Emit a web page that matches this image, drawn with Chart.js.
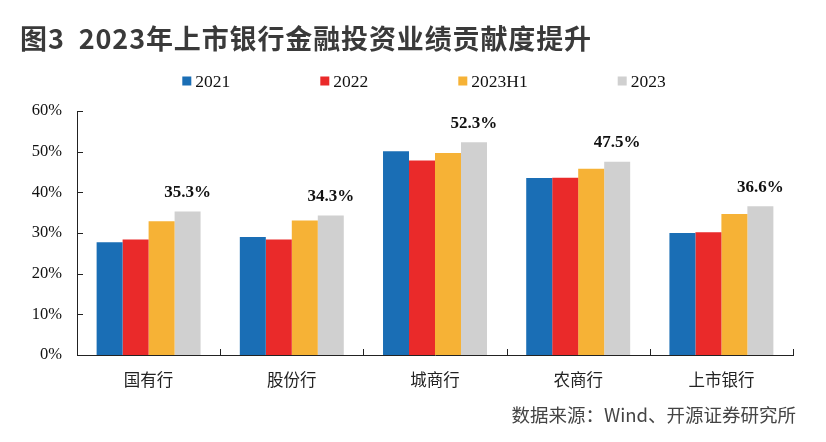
<!DOCTYPE html>
<html>
<head>
<meta charset="utf-8">
<script src="https://cdn.jsdelivr.net/npm/chart.js@4.4.1/dist/chart.umd.min.js"></script>
<style>
  html, body { margin: 0; padding: 0; background: #ffffff; }
  #wrap { position: relative; width: 826px; height: 442px; overflow: hidden; background: #fff; }
  #title { position: absolute; left: 20px; top: 18px; font-family: "Noto Sans CJK SC", "Noto Sans", sans-serif; font-weight: 700; font-size: 27px; letter-spacing: 0px; color: #3a3a3a; white-space: nowrap; line-height: 40px; }
  #source { position: absolute; right: 30px; top: 400px; font-family: "Noto Sans CJK SC", "Noto Sans", sans-serif; font-size: 18.5px; color: #444; white-space: nowrap; line-height: 28px; }
  canvas { position: absolute; left: 0; top: 0; }
</style>
</head>
<body>
<div id="wrap">
  <canvas id="c" width="826" height="442"></canvas>
  <div id="title">图3&nbsp;&nbsp;2023年上市银行金融投资业绩贡献度提升</div>
  <div id="source">数据来源：Wind、开源证券研究所</div>
</div>
<script>
const categories = ['国有行', '股份行', '城商行', '农商行', '上市银行'];
const seriesNames = ['2021', '2022', '2023H1', '2023'];
const values2021 = [27.7, 29.0, 50.1, 43.5, 30.0];
const values2022 = [28.4, 28.4, 47.8, 43.6, 30.2];
const values2023H1 = [32.9, 33.1, 49.7, 45.8, 34.7];
const values2023 = [35.3, 34.3, 52.3, 47.5, 36.6];
const seriesColors = ['#1a6eb5', '#ea2a2a', '#f6b236', '#d0d0d0'];
const yMax = 60;
const yStep = 10;

// fit title width to the reference (about 572px) by spreading letters
(function () {
  const t = document.getElementById('title');
  const w0 = t.getBoundingClientRect().width;
  const n = t.textContent.length;
  const ls = Math.max(0, (572 - w0) / n);
  t.style.letterSpacing = ls + 'px';
})();

const serif = '"Liberation Serif", "Times New Roman", serif';
const cjk = '"Noto Sans CJK SC", sans-serif';

const inwardTicks = {
  id: 'inwardTicks',
  afterDraw(chart) {
    const ctx = chart.ctx, a = chart.chartArea;
    const xs = chart.scales.x, ys = chart.scales.y;
    ctx.save();
    ctx.strokeStyle = '#222';
    ctx.lineWidth = 1;
    ctx.beginPath();
    ys.ticks.forEach(t => {
      const y = Math.round(ys.getPixelForValue(t.value)) + 0.5;
      ctx.moveTo(a.left, y); ctx.lineTo(a.left + 6, y);
    });
    for (let i = 0; i <= categories.length; i++) {
      const x = Math.round(xs.getPixelForValue(i - 0.5)) + 0.5;
      ctx.moveTo(x, a.bottom); ctx.lineTo(x, a.bottom - 6);
    }
    ctx.stroke();
    ctx.restore();
  }
};

const valueLabels = {
  id: 'valueLabels',
  afterDatasetsDraw(chart) {
    const ctx = chart.ctx;
    const idx = chart.data.datasets.length - 1;
    const meta = chart.getDatasetMeta(idx);
    const data = chart.data.datasets[idx].data;
    ctx.save();
    ctx.font = 'bold 17px ' + serif;
    ctx.fillStyle = '#111';
    ctx.textAlign = 'center';
    ctx.textBaseline = 'middle';
    meta.data.forEach((el, i) => {
      ctx.fillText(data[i].toFixed(1) + '%', el.x, el.y - 19);
    });
    ctx.restore();
  }
};

const customLegend = {
  id: 'customLegend',
  afterDraw(chart) {
    const ctx = chart.ctx;
    const box = 9, boxGap = 4, itemGap = 90, cy = 81;
    ctx.save();
    ctx.font = '17.5px ' + serif;
    const items = chart.data.datasets.map(d => ({ label: d.label, color: d.backgroundColor, w: ctx.measureText(d.label).width }));
    const total = items.reduce((s, it) => s + box + boxGap + it.w, 0) + itemGap * (items.length - 1);
    let x = 424 - total / 2;
    ctx.textBaseline = 'middle';
    ctx.textAlign = 'left';
    items.forEach(it => {
      ctx.fillStyle = it.color;
      ctx.fillRect(x, cy - box / 2, box, box);
      ctx.fillStyle = '#111';
      ctx.fillText(it.label, x + box + boxGap, cy + 1);
      x += box + boxGap + it.w + itemGap;
    });
    ctx.restore();
  }
};

const seriesValues = [values2021, values2022, values2023H1, values2023];

new Chart(document.getElementById('c'), {
  type: 'bar',
  data: {
    labels: categories,
    datasets: seriesNames.map((name, i) => ({
      label: name,
      data: seriesValues[i],
      backgroundColor: seriesColors[i],
      borderWidth: 0,
      categoryPercentage: 0.726,
      barPercentage: 1.0
    }))
  },
  options: {
    responsive: false,
    animation: false,
    devicePixelRatio: 1,
    layout: { padding: { left: 22, right: 33, top: 111, bottom: 0 } },
    plugins: {
      legend: { display: false },
      title: { display: false },
      tooltip: { enabled: false }
    },
    scales: {
      x: {
        grid: { display: false, drawTicks: false },
        border: { display: true, color: '#222', width: 1 },
        ticks: { font: { family: cjk, size: 16.5 }, color: '#222', padding: 15 },
        afterFit(s) { s.height = 87; }
      },
      y: {
        min: 0, max: yMax,
        grid: { display: false, drawTicks: false },
        border: { display: true, color: '#222', width: 1 },
        ticks: { stepSize: yStep, callback: v => v + '%', font: { family: serif, size: 16.5 }, color: '#111', padding: 15 },
        afterFit(s) { s.width = 55; }
      }
    }
  },
  plugins: [inwardTicks, valueLabels, customLegend]
});
</script>
</body>
</html>
